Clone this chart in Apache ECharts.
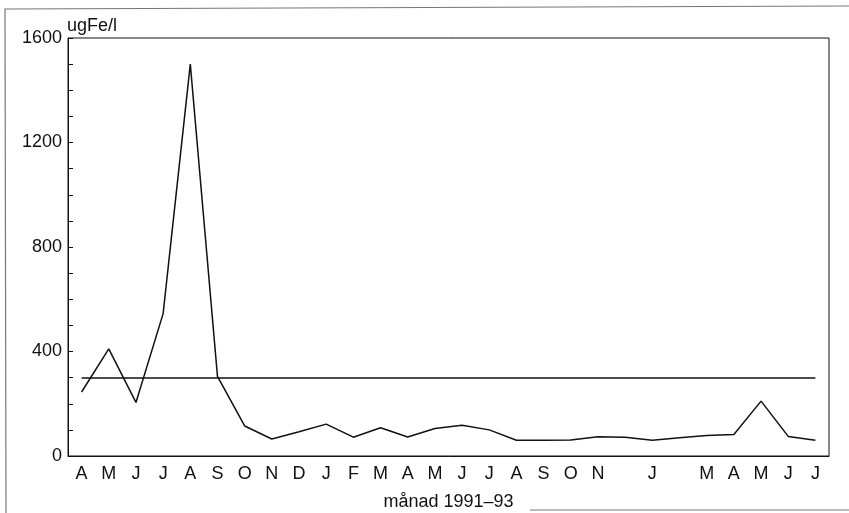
<!DOCTYPE html>
<html>
<head>
<meta charset="utf-8">
<script src="https://cdn.jsdelivr.net/npm/echarts@6/dist/echarts.min.js"></script>
<style>
html,body{margin:0;padding:0;background:#fff;}
#c{width:849px;height:513px;}
</style>
</head>
<body>
<div id="c"></div>
<script>
// Month tick labels (April 1991 – July 1993); two ticks unlabeled in the original
var months = ['A','M','J','J','A','S','O','N','D','J','F','M','A','M','J','J','A','S','O','N','','J','','M','A','M','J','J'];
// Iron concentration, ugFe/l
var iron = [245, 410, 205, 545, 1500, 305, 115, 65, 93, 122, 72, 108, 73, 105, 118, 100, 60, 60, 61, 74, 72, 60, 70, 78, 82, 210, 75, 60];
// Reference level
var limitValue = 300;
// Y axis labelled ticks
var yLabelStep = 400;

var chart = echarts.init(document.getElementById('c'), null, {renderer: 'canvas'});
var font = 'Liberation Sans, Arial, Helvetica, sans-serif';
chart.setOption({
  animation: false,
  backgroundColor: '#fff',
  grid: {left: 68, right: 20, top: 38, bottom: 57, outerBoundsMode: 'none', containLabel: false, show: true, borderColor: '#111', borderWidth: 1, backgroundColor: 'transparent'},
  xAxis: {
    type: 'category',
    data: months,
    boundaryGap: true,
    name: 'månad 1991–93',
    nameLocation: 'middle',
    nameGap: 37,
    nameMoveOverlap: false,
    nameTextStyle: {color: '#111', fontSize: 18, fontFamily: font},
    axisLine: {lineStyle: {color: '#111', width: 1}},
    axisTick: {alignWithLabel: true, interval: 0, length: 5, lineStyle: {color: '#111'}},
    axisLabel: {interval: 0, color: '#111', fontSize: 18, fontFamily: font, margin: 9},
    splitLine: {show: false}
  },
  yAxis: {
    type: 'value',
    min: 0, max: 1600, interval: 100,
    name: 'ugFe/l',
    nameLocation: 'end',
    nameGap: 3,
    nameMoveOverlap: false,
    nameTextStyle: {color: '#111', fontSize: 18, fontFamily: font, align: 'left', padding: [0, 0, 0, -1]},
    axisLine: {show: true, lineStyle: {color: '#111', width: 1}},
    axisTick: {show: true, inside: true, length: 5, lineStyle: {color: '#111'}},
    axisLabel: {
      color: '#111', fontSize: 18, fontFamily: font, margin: 6,
      formatter: function (v) { return v % yLabelStep === 0 ? String(v) : ''; }
    },
    splitLine: {show: false}
  },
  series: [{
    type: 'line',
    data: iron,
    symbol: 'none',
    lineStyle: {color: '#111', width: 1.5},
    markLine: {
      silent: true,
      symbol: ['none', 'none'],
      label: {show: false},
      lineStyle: {color: '#111', width: 1.5, type: 'solid'},
      data: [[{coord: [0, limitValue]}, {coord: [months.length - 1, limitValue]}]]
    }
  }],
  graphic: [
    {type: 'polyline', silent: true, shape: {points: [[6, 513], [5, 9], [849, 6]]}, style: {stroke: '#777', lineWidth: 1.2, fill: null}},
    {type: 'line', silent: true, shape: {x1: 530, y1: 510, x2: 849, y2: 510}, style: {stroke: '#777', lineWidth: 1.2}}
  ]
});
</script>
</body>
</html>
